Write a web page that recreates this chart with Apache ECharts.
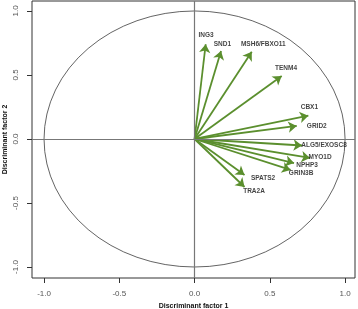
<!DOCTYPE html>
<html><head><meta charset="utf-8">
<script src="https://cdn.jsdelivr.net/npm/echarts@6/dist/echarts.min.js"></script>
<style>html,body{margin:0;padding:0;background:#fff}#c{width:358px;height:309px}</style>
</head><body><div id="c"></div>
<script>
const genes = ['ING3','SND1','MSH6/FBXO11','TENM4','CBX1','GRID2','ALG5/EXOSC8','MYO1D','NPHP3','GRIN3B','SPATS2','TRA2A'];
const factor1 = [0.074,0.176,0.380,0.579,0.756,0.679,0.714,0.767,0.661,0.638,0.332,0.332];
const factor2 = [0.740,0.688,0.682,0.492,0.182,0.102,-0.051,-0.148,-0.188,-0.242,-0.281,-0.375];
const labelX = [0.076,0.185,0.457,0.608,0.763,0.812,0.860,0.834,0.748,0.708,0.455,0.395];
const labelY = [0.8125,0.740,0.740,0.552,0.248,0.102,-0.047,-0.141,-0.203,-0.266,-0.305,-0.406];
const tickValues = [-1,-0.5,0,0.5,1];
const circleRadius = 1;

const green = '#5b8f2e';
const chart = echarts.init(document.getElementById('c'));
const tickFont = {fontFamily:'Liberation Sans, Arial, sans-serif', fontSize:8, color:'#555'};
chart.setOption({
  animation:false,
  grid:{left:32,right:3,top:1,bottom:31,containLabel:false,outerBoundsMode:'none',show:true,borderColor:'#333',borderWidth:1,backgroundColor:'transparent'},
  xAxis:{type:'value',min:-1.08,max:1.066,
    name:'Discriminant factor 1',nameLocation:'middle',nameGap:25,nameMoveOverlap:false,
    nameTextStyle:{fontFamily:'Liberation Sans, Arial, sans-serif',fontSize:7,fontWeight:'bold',color:'#111'},
    axisLine:{show:false,onZero:false},splitLine:{show:false},
    axisTick:{show:true,length:5,inside:false,customValues:tickValues,lineStyle:{color:'#333'}},
    axisLabel:Object.assign({customValues:tickValues,margin:12,formatter:v=>v.toFixed(1)},tickFont)
  },
  yAxis:{type:'value',min:-1.086,max:1.078,
    name:'Discriminant factor 2',nameLocation:'middle',nameGap:23,nameMoveOverlap:false,
    nameTextStyle:{fontFamily:'Liberation Sans, Arial, sans-serif',fontSize:7,fontWeight:'bold',color:'#111'},
    axisLine:{show:false,onZero:false},splitLine:{show:false},
    axisTick:{show:true,length:5,inside:false,customValues:tickValues,lineStyle:{color:'#333'}},
    axisLabel:Object.assign({customValues:tickValues,margin:12,rotate:90,formatter:v=>v.toFixed(1)},tickFont)
  },
  series:[
    {type:'custom',z:1,silent:true,data:[[0,0,circleRadius]],
      renderItem:function(params,api){
        const c=api.coord([api.value(0),api.value(1)]);
        const e=api.coord([api.value(0)+api.value(2),api.value(1)]);
        const t=api.coord([api.value(0),api.value(1)+api.value(2)]);
        const rx=e[0]-c[0], ry=c[1]-t[1];
        return {type:'circle',x:c[0],y:c[1],scaleX:1,scaleY:ry/rx,
          shape:{cx:0,cy:0,r:rx},
          style:{fill:'none',stroke:'#444',lineWidth:0.9,strokeNoScale:true}};
      },
      markLine:{silent:true,symbol:'none',label:{show:false},
        lineStyle:{color:'#777',width:1.2,type:'solid'},
        data:[{xAxis:0},{yAxis:0}]}
    },
    {type:'lines',coordinateSystem:'cartesian2d',z:3,silent:true,
      symbol:['none','arrow'],symbolSize:[0,8.5],
      lineStyle:{color:green,width:1.8,opacity:1},
      data:genes.map((g,i)=>({coords:[[0,0],[factor1[i],factor2[i]]]}))
    },
    {type:'scatter',z:4,silent:true,symbolSize:0,
      data:genes.map((g,i)=>({value:[labelX[i],labelY[i]],name:g})),
      label:{show:true,position:'inside',formatter:p=>p.name,
        fontFamily:'Liberation Sans Narrow, Liberation Sans, Arial, sans-serif',
        fontSize:6.5,fontWeight:'bold',color:'#111'}
    }
  ]
});
</script></body></html>
